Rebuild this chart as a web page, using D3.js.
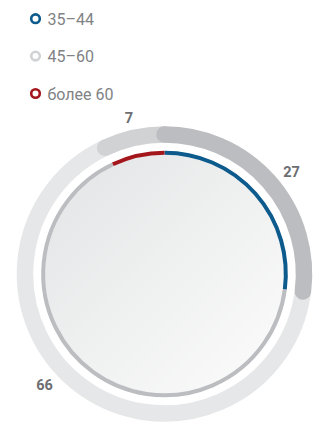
<!DOCTYPE html>
<html><head><meta charset="utf-8">
<script src="https://cdn.jsdelivr.net/npm/d3@7"></script>
<style>html,body{margin:0;padding:0;background:#fff;}svg{display:block;}</style>
</head><body>
<svg id="chart" width="321" height="423"></svg>
<script>
// data
const categories = ["35–44", "45–60", "более 60"];
const values = [27, 66, 7];
const legendColors = ["#0d5a8c", "#d1d2d4", "#a3161c"];
const outerColors = ["#bcbdc0", "#e6e7e8", "#d1d2d4"];
const innerColors = ["#0d5a8c", "#bcbdc0", "#a3161c"];

const svg = d3.select("#chart");
const cx = 164.5, cy = 274;
const total = d3.sum(values);
const angle = d3.scaleLinear().domain([0, total]).range([0, 2 * Math.PI]);

// gradient for inner fill
const defs = svg.append("defs");
const grad = defs.append("linearGradient").attr("id", "g").attr("x1", "0%").attr("y1", "0%").attr("x2", "100%").attr("y2", "100%");
grad.append("stop").attr("offset", "0%").attr("stop-color", "#e3e4e5");
grad.append("stop").attr("offset", "100%").attr("stop-color", "#fcfcfc");

const g = svg.append("g").attr("transform", `translate(${cx},${cy})`);

// outer ring: clockwise order 27 (0..), 66, 7 ; drawn 66, 7, 27
let cum = 0;
const segs = values.map((v, i) => { const s = { i, v, a0: angle(cum), a1: angle(cum + v) }; cum += v; return s; });
const Rmid = 139.5, Rw = 16.5;
const arcLine = (a0, a1, r) => {
  const p = d3.path();
  p.arc(0, 0, r, a0 - Math.PI / 2, a1 - Math.PI / 2, false);
  return p.toString();
};
[1, 2, 0].forEach(i => {
  const s = segs[i];
  g.append("path").attr("d", arcLine(s.a0, s.a1, Rmid))
    .attr("fill", "none").attr("stroke", outerColors[i])
    .attr("stroke-width", Rw).attr("stroke-linecap", "round");
});

// inner fill
g.append("circle").attr("r", 119.5).attr("fill", "url(#g)");

// inner ring: blue clockwise from top, red counter-clockwise from top, gray rest
const Ri = 121.3, Wi = 4;
const a27 = angle(values[0]);
const a7 = angle(values[2]);
g.append("path").attr("d", arcLine(a27, 2 * Math.PI - a7, Ri)).attr("fill", "none").attr("stroke", innerColors[1]).attr("stroke-width", Wi);
g.append("path").attr("d", arcLine(0, a27, Ri)).attr("fill", "none").attr("stroke", innerColors[0]).attr("stroke-width", Wi);
g.append("path").attr("d", arcLine(2 * Math.PI - a7, 2 * Math.PI, Ri)).attr("fill", "none").attr("stroke", innerColors[2]).attr("stroke-width", Wi);

// value labels
const labelPos = [[291.5, 177], [44.5, 390], [129, 122.5]];
values.forEach((v, i) => {
  svg.append("text").attr("x", labelPos[i][0]).attr("y", labelPos[i][1])
    .attr("text-anchor", "middle").attr("font-family", "Roboto, sans-serif")
    .attr("font-weight", "bold").attr("font-size", 14.5).attr("fill", "#6d6e71")
    .text(v);
});

// legend
const ly = d3.scalePoint().domain(categories).range([18.7, 93.5]);
const leg = svg.append("g");
categories.forEach((c, i) => {
  const y = ly(c);
  leg.append("circle").attr("cx", 35.5).attr("cy", y).attr("r", 4.3)
    .attr("fill", "none").attr("stroke", legendColors[i]).attr("stroke-width", 2.6);
  leg.append("text").attr("x", 47.5).attr("y", y + 6).attr("font-family", "Roboto, sans-serif")
    .attr("font-size", 16).attr("fill", "#808285").text(c);
});
</script>
</body></html>
